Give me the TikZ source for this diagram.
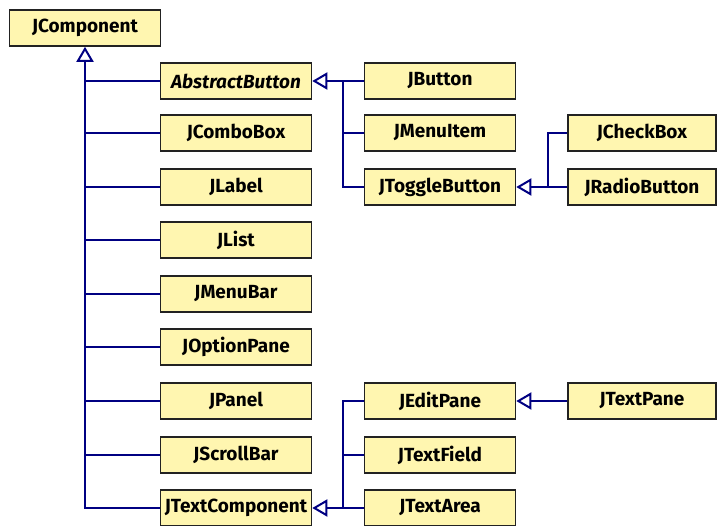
\documentclass[tikz,border=0pt]{standalone}
\usepackage{fontspec}
\setsansfont{Fira Sans}
\usetikzlibrary{arrows.meta}
\definecolor{boxfill}{RGB}{255,246,176}
\definecolor{boxline}{RGB}{34,34,34}
\definecolor{linkcol}{RGB}{0,0,130}
\tikzset{
  cls/.style={draw=boxline, fill=boxfill, line width=1.6pt, rectangle,
    minimum width=151pt, minimum height=36pt, inner sep=0pt,
    font=\sffamily\bfseries\fontsize{19}{22}\selectfont},
  link/.style={draw=linkcol, line width=2pt},
  inh/.style={link, -{Triangle[open, length=15pt, width=17pt, fill=white]}}
}
\begin{document}
\begin{tikzpicture}[x=1pt, y=-1pt]
\useasboundingbox (0,0) rectangle (717,525);
% nodes
\node[cls] (JComponent) at (85,28) {JComponent};
\node[cls] (AbstractButton) at (236,81) {\itshape AbstractButton};
\node[cls] (JComboBox) at (236,133) {JComboBox};
\node[cls] (JLabel) at (236,187) {JLabel};
\node[cls] (JList) at (236,240) {JList};
\node[cls] (JMenuBar) at (236,294) {JMenuBar};
\node[cls] (JOptionPane) at (236,347) {JOptionPane};
\node[cls] (JPanel) at (236,401) {JPanel};
\node[cls] (JScrollBar) at (236,455) {JScrollBar};
\node[cls] (JTextComponent) at (236,508) {JTextComponent};
\node[cls] (JButton) at (440,81) {JButton};
\node[cls] (JMenuItem) at (440,133) {JMenuItem};
\node[cls] (JToggleButton) at (440,187) {JToggleButton};
\node[cls] (JEditPane) at (440,401) {JEditPane};
\node[cls] (JTextField) at (440,455) {JTextField};
\node[cls] (JTextArea) at (440,508) {JTextArea};
\node[cls, minimum width=148pt] (JCheckBox) at (642,133) {JCheckBox};
\node[cls, minimum width=148pt] (JRadioButton) at (642,187) {JRadioButton};
\node[cls, minimum width=148pt] (JTextPane) at (642,401) {JTextPane};
% buses
\coordinate (busA) at (343,187);
\coordinate (busT) at (548,133);
\coordinate (busE) at (343,508);
% JComponent hierarchy
\draw[inh] (JTextComponent.west) -| (JComponent.south);
\foreach \n in {AbstractButton,JComboBox,JLabel,JList,JMenuBar,JOptionPane,JPanel,JScrollBar}
  \draw[link] (\n.west) -- (\n.west -| JComponent.south);
% AbstractButton hierarchy
\draw[inh] (JButton.west) -- (AbstractButton.east);
\draw[link] (JToggleButton.west) -- (busA) -- (busA |- JButton.west);
\draw[link] (JMenuItem.west) -- (JMenuItem.west -| busA);
% JToggleButton hierarchy
\draw[inh] (JRadioButton.west) -- (JToggleButton.east);
\draw[link] (JCheckBox.west) -- (busT) -- (busT |- JRadioButton.west);
% JTextComponent hierarchy
\draw[inh] (JTextArea.west) -- (JTextComponent.east);
\draw[link] (JEditPane.west) -| (busE);
\draw[link] (JTextField.west) -- (JTextField.west -| busE);
% JEditPane hierarchy
\draw[inh] (JTextPane.west) -- (JEditPane.east);
\end{tikzpicture}
\end{document}
